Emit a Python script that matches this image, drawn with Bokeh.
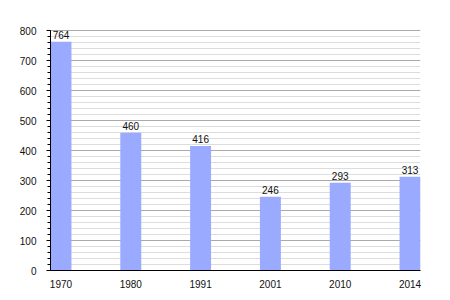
from bokeh.plotting import figure
from bokeh.models import ColumnDataSource, SingleIntervalTicker, FixedTicker, Range1d
from bokeh.core.properties import value
from bokeh.embed import file_html
from bokeh.resources import INLINE

years = ["1970", "1980", "1991", "2001", "2010", "2014"]
population = [764, 460, 416, 246, 293, 313]

idx = list(range(len(years)))
src = ColumnDataSource(dict(x=idx, top=population, label=[str(v) for v in population]))

p = figure(width=450, height=300, output_backend="svg", toolbar_location=None,
           x_range=Range1d(-0.15, 5.15), y_range=Range1d(0, 815),
           min_border_left=50, min_border_right=30, min_border_top=26, min_border_bottom=30)
p.outline_line_color = None
p.background_fill_color = "white"

p.vbar(x="x", top="top", width=0.3, source=src, fill_color="#99aaff", line_color=None)
p.text(x="x", y="top", text="label", source=src, text_align="center", text_baseline="bottom",
       y_offset=-3, text_font=value("Liberation Sans"), text_font_size="10px", text_color="#111111")

# x axis
p.xaxis.ticker = FixedTicker(ticks=idx)
p.xaxis.major_label_overrides = {i: y for i, y in enumerate(years)}
p.xaxis.major_tick_line_color = None
p.xaxis.minor_tick_line_color = None
p.xaxis.axis_line_color = "black"
p.xaxis.major_label_standoff = 3
p.xaxis.major_label_text_font = "Liberation Sans"
p.xaxis.major_label_text_font_size = "10px"
p.xaxis.major_label_text_color = "#111111"
p.xgrid.grid_line_color = None

# y axis
p.yaxis.ticker = SingleIntervalTicker(interval=100, num_minor_ticks=5)
p.yaxis.bounds = (0, 800)
p.yaxis.axis_line_color = "black"
p.yaxis.major_tick_line_color = "black"
p.yaxis.major_tick_out = 4
p.yaxis.major_tick_in = 0
p.yaxis.minor_tick_line_color = "black"
p.yaxis.minor_tick_out = 3
p.yaxis.minor_tick_in = 0
p.yaxis.major_label_standoff = 10
p.yaxis.major_label_text_font = "Liberation Sans"
p.yaxis.major_label_text_font_size = "10px"
p.yaxis.major_label_text_color = "#111111"
p.ygrid.ticker = SingleIntervalTicker(interval=100, num_minor_ticks=5)
p.ygrid.grid_line_color = "#aaaaaa"
p.ygrid.minor_grid_line_color = "#dddddd"

open("out.html", "w").write(file_html(p, INLINE))
